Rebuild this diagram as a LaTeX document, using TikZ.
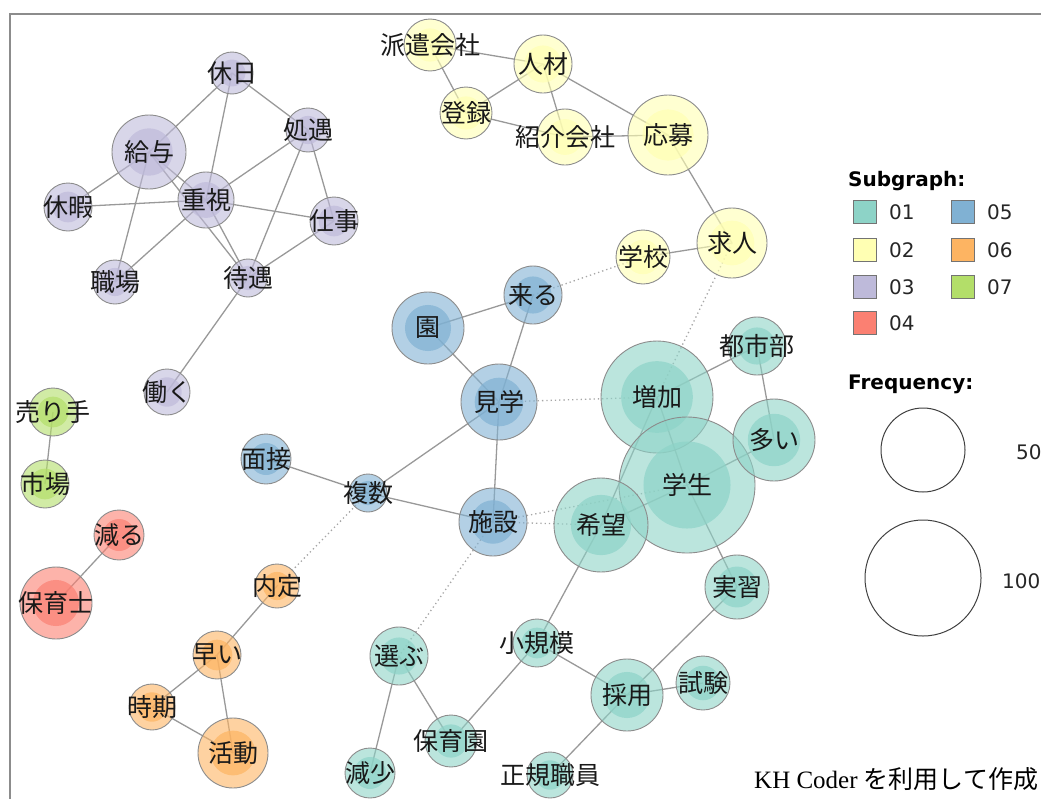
\documentclass[tikz,border=0pt]{standalone}
\usepackage{fontspec}
\setmainfont{Liberation Serif}
\newfontfamily\cjk{Noto Sans CJK JP}
\newfontfamily\lgd{DejaVu Sans}
\usetikzlibrary{backgrounds}
\definecolor{c01}{HTML}{8DD3C7}
\definecolor{c02}{HTML}{FFFFB3}
\definecolor{c03}{HTML}{BEBADA}
\definecolor{c04}{HTML}{FB8072}
\definecolor{c05}{HTML}{80B1D3}
\definecolor{c06}{HTML}{FDB462}
\definecolor{c07}{HTML}{B3DE69}
\tikzset{
  kwnode/.style={circle, draw=black!45, line width=0.9pt, fill opacity=0.6,
    inner sep=0pt},
  kwtext/.style={inner sep=0pt, font=\cjk\fontsize{25}{25}\selectfont, text=black!90},
  edge/.style={draw=black!40, line width=1.3pt},
  weak/.style={draw=black!35, line width=1.3pt, dash pattern=on 1.3pt off 3pt},
  legbox/.style={draw=black!55, line width=1pt, minimum size=23pt, inner sep=0pt},
  legtext/.style={font=\lgd\fontsize{20}{20}\selectfont, text=black!85, inner sep=0pt},
  legtitle/.style={font=\lgd\bfseries\fontsize{20}{20}\selectfont, inner sep=0pt},
  freqcirc/.style={circle, draw=black!75, line width=1pt, inner sep=0pt},
}
\newcommand\kw[6]{%
  \fill[#5, opacity=0.7] (#2,#3) circle[radius=0.64*#4pt];
  \node[kwnode, fill=#5, minimum size=2*#4pt] (#1) at (#2,#3) {};
  \node[kwtext] (#1-t) at (#1.center) {#6};}
\begin{document}
\begin{tikzpicture}[x=1pt,y=-1pt]
\useasboundingbox (0,0) rectangle (1041,798);
\clip (0,0) rectangle (1041,798);
% frame
\draw[black!45, line width=2pt] (10,800) -- (10,14) -- (1045,14);

% ---- subgraph 03
\kw{kyujitsu}{232}{73}{21}{c03}{休日}
\kw{shogu}{308}{130}{22}{c03}{処遇}
\kw{kyuyo}{149}{152}{37}{c03}{給与}
\kw{kyuka}{68}{207}{24}{c03}{休暇}
\kw{juushi}{206}{200}{28}{c03}{重視}
\kw{shigoto}{334}{221}{24}{c03}{仕事}
\kw{shokuba}{115}{282}{22}{c03}{職場}
\kw{taigu}{248}{278}{19}{c03}{待遇}
\kw{hataraku}{167}{392}{23}{c03}{働く}
% ---- subgraph 02
\kw{haken}{430}{45}{26}{c02}{派遣会社}
\kw{jinzai}{543}{64}{29}{c02}{人材}
\kw{toroku}{466}{113}{26}{c02}{登録}
\kw{shokai}{565}{137}{28}{c02}{紹介会社}
\kw{oubo}{668}{135}{40}{c02}{応募}
\kw{kyujin}{732}{243}{35}{c02}{求人}
\kw{gakko}{643}{257}{27}{c02}{学校}
% ---- subgraph 05
\kw{kuru}{533}{295}{29}{c05}{来る}
\kw{en}{428}{328}{36}{c05}{園}
\kw{kengaku}{499}{402}{38}{c05}{見学}
\kw{fukusu}{368}{493}{19}{c05}{複数}
\kw{shisetsu}{493}{522}{34}{c05}{施設}
\kw{mensetsu}{266}{459}{25}{c05}{面接}
% ---- subgraph 07
\kw{urite}{53}{412}{24}{c07}{売り手}
\kw{shijo}{45}{484}{24}{c07}{市場}
% ---- subgraph 04
\kw{heru}{119}{535}{25}{c04}{減る}
\kw{hoikushi}{56}{603}{36}{c04}{保育士}
% ---- subgraph 06
\kw{naitei}{277}{586}{22}{c06}{内定}
\kw{hayai}{217}{655}{24}{c06}{早い}
\kw{jiki}{152}{707}{23}{c06}{時期}
\kw{katsudo}{233}{753}{35}{c06}{活動}
% ---- subgraph 01
\kw{zoka}{657}{397}{56}{c01}{増加}
\kw{gakusei}{687}{485}{68}{c01}{学生}
\kw{toshibu}{757}{346}{29}{c01}{都市部}
\kw{ooi}{774}{440}{41}{c01}{多い}
\kw{kibo}{601}{525}{47}{c01}{希望}
\kw{jisshu}{737}{587}{32}{c01}{実習}
\kw{shokibo}{537}{643}{24}{c01}{小規模}
\kw{saiyo}{627}{695}{36}{c01}{採用}
\kw{shiken}{703}{683}{27}{c01}{試験}
\kw{erabu}{399}{656}{29}{c01}{選ぶ}
\kw{hoikuen}{451}{741}{26}{c01}{保育園}
\kw{genshou}{370}{773}{25}{c01}{減少}
\kw{seiki}{550}{775}{23}{c01}{正規職員}

\begin{pgfonlayer}{background}
% 03
\foreach \a/\b in {kyujitsu/kyuyo, kyujitsu/juushi, kyujitsu/shogu, kyuyo/kyuka, kyuyo/shokuba,
  kyuyo/juushi, kyuyo/taigu, juushi/kyuka, juushi/shogu, juushi/shigoto, juushi/shokuba,
  juushi/taigu, shogu/shigoto, shogu/taigu, shigoto/taigu, taigu/hataraku}
  \draw[edge] (\a.center) -- (\b.center);
% 02
\foreach \a/\b in {haken/jinzai, haken/toroku, jinzai/toroku, jinzai/shokai, jinzai/oubo,
  toroku/shokai, shokai/oubo, oubo/kyujin, kyujin/gakko}
  \draw[edge] (\a.center) -- (\b.center);
% 05
\foreach \a/\b in {kuru/en, kuru/kengaku, en/kengaku, kengaku/fukusu, kengaku/shisetsu,
  fukusu/mensetsu, fukusu/shisetsu}
  \draw[edge] (\a.center) -- (\b.center);
% 07, 04, 06
\foreach \a/\b in {urite/shijo, heru/hoikushi, naitei/hayai, hayai/jiki, hayai/katsudo, jiki/katsudo}
  \draw[edge] (\a.center) -- (\b.center);
% 01
\foreach \a/\b in {zoka/toshibu, zoka/gakusei, zoka/kibo, toshibu/ooi, gakusei/ooi, gakusei/kibo,
  gakusei/jisshu, kibo/shokibo, jisshu/saiyo, saiyo/shiken, saiyo/shokibo, saiyo/seiki,
  shokibo/hoikuen, erabu/hoikuen, erabu/genshou}
  \draw[edge] (\a.center) -- (\b.center);
% weak links
\foreach \a/\b in {kuru/gakko, kyujin/zoka, kengaku/zoka, shisetsu/kibo, shisetsu/gakusei,
  shisetsu/erabu, fukusu/naitei}
  \draw[weak] (\a.center) -- (\b.center);
\end{pgfonlayer}

% ---- legend
\node[legtitle, anchor=base west] (sgtitle) at (848,186) {Subgraph:};
\foreach \c/\t/\x/\y in {c01/01/865/212, c02/02/865/250, c03/03/865/287, c04/04/865/323,
  c05/05/963/212, c06/06/963/250, c07/07/963/287}{
  \node[legbox, fill=\c] (box\t) at (\x,\y) {};
  \node[legtext, anchor=west] (lab\t) at ([xshift=12pt]box\t.east) {\t};
}
\node[legtitle, anchor=base west] (fqtitle) at (848,389) {Frequency:};
\node[freqcirc, minimum size=84pt] (f50) at (923,450) {};
\node[freqcirc, minimum size=116pt] (f100) at (923,578) {};
\node[legtext, anchor=base west] (f50lab) at (1016,459) {50};
\node[legtext, anchor=base west] (f100lab) at (1002,588) {100};

% credit
\node[anchor=base west, inner sep=0pt, font=\fontsize{25}{25}\selectfont] (credit) at (754,788)
  {KH Coder {\cjk\fontsize{25}{25}\selectfont を利用して作成}};
\end{tikzpicture}
\end{document}
